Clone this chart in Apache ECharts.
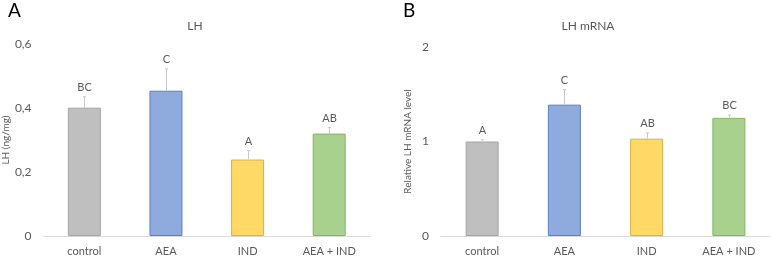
<!DOCTYPE html>
<html>
<head>
<meta charset="utf-8">
<script src="https://cdn.jsdelivr.net/npm/echarts@6/dist/echarts.min.js"></script>
<style>
  html, body { margin: 0; padding: 0; background: #fff; }
  #chart { width: 771px; height: 257px; }
</style>
</head>
<body>
<div id="chart"></div>
<script>
// 数据
const categories = ["control", "AEA", "IND", "AEA + IND"];
const lhMean = [0.401, 0.454, 0.239, 0.32];
const lhErr = [0.034, 0.068, 0.028, 0.019];
const lhLetters = ["BC", "C", "A", "AB"];
const mrnaMean = [1.0, 1.39, 1.03, 1.25];
const mrnaErr = [0.02, 0.16, 0.06, 0.03];
const mrnaLetters = ["A", "C", "AB", "BC"];

const fills = ["#bfbfbf", "#8faadc", "#ffd966", "#a9d18e"];
const borders = ["#a5a5a5", "#5b7fc7", "#d6b14a", "#84b462"];
const textColor = "#595959";
const font = "Lato, 'Open Sans', sans-serif";

function barData(vals) {
  return vals.map((v, i) => ({
    value: v,
    itemStyle: { color: fills[i], borderColor: borders[i], borderWidth: 1 },
  }));
}

function errData(mean, err, letters) {
  return mean.map((m, i) => [i, m, m + err[i], letters[i]]);
}

// 误差线 + 字母
function renderErr(params, api) {
  const base = api.coord([api.value(0), api.value(1)]);
  const top = api.coord([api.value(0), api.value(2)]);
  const x = Math.round(base[0]) + 0.5;
  return {
    type: "group",
    children: [
      {
        type: "line",
        shape: { x1: x, y1: base[1], x2: x, y2: top[1] },
        style: { stroke: "#c8c8c8", lineWidth: 1 },
      },
      {
        type: "line",
        shape: { x1: x - 1.5, y1: top[1], x2: x + 1.5, y2: top[1] },
        style: { stroke: "#c8c8c8", lineWidth: 1 },
      },
      {
        type: "text",
        x: x,
        y: top[1] - 4,
        style: {
          text: api.value(3),
          fill: textColor,
          font: "11px " + font,
          align: "center",
          verticalAlign: "bottom",
        },
      },
    ],
  };
}

function xAxisCfg(gridIndex) {
  return {
    type: "category",
    gridIndex,
    data: categories,
    axisTick: { show: false },
    axisLine: { lineStyle: { color: "#d9d9d9" } },
    axisLabel: { color: textColor, fontSize: 11, fontFamily: font, margin: 10 },
  };
}

const options = {
  animation: false,
  title: [
    { text: "A", left: 3, top: -4, textStyle: { fontSize: 19, fontWeight: "normal", color: "#000", fontFamily: font } },
    { text: "B", left: 398, top: -4, textStyle: { fontSize: 19, fontWeight: "normal", color: "#000", fontFamily: font } },
    { text: "LH", left: 190, top: 15, textAlign: "center", textStyle: { fontSize: 12, fontWeight: "normal", color: textColor, fontFamily: font } },
    { text: "LH mRNA", left: 583, top: 15, textAlign: "center", textStyle: { fontSize: 12, fontWeight: "normal", color: textColor, fontFamily: font } },
  ],
  grid: [
    { left: 42, right: 401, top: 44, bottom: 20 },
    { left: 441, right: 1, top: 47, bottom: 20 },
  ],
  xAxis: [xAxisCfg(0), xAxisCfg(1)],
  yAxis: [
    {
      type: "value",
      gridIndex: 0,
      min: 0,
      max: 0.6,
      interval: 0.2,
      name: "LH (ng/mg)",
      nameLocation: "middle",
      nameGap: 30,
      nameTextStyle: { color: textColor, fontSize: 10, fontFamily: font },
      splitLine: { show: false },
      axisLine: { show: false },
      axisLabel: {
        color: textColor,
        fontSize: 12,
        fontFamily: font,
        margin: 12,
        formatter: (v) => (v === 0 ? "0" : v.toFixed(1).replace(".", ",")),
      },
    },
    {
      type: "value",
      gridIndex: 1,
      min: 0,
      max: 2,
      interval: 1,
      name: "Relative LH mRNA level",
      nameLocation: "middle",
      nameGap: 28,
      nameTextStyle: { color: textColor, fontSize: 10, fontFamily: font },
      splitLine: { show: false },
      axisLine: { show: false },
      axisLabel: { color: textColor, fontSize: 12, fontFamily: font, margin: 12 },
    },
  ],
  series: [
    { type: "bar", xAxisIndex: 0, yAxisIndex: 0, barWidth: 33, data: barData(lhMean) },
    { type: "custom", xAxisIndex: 0, yAxisIndex: 0, renderItem: renderErr, data: errData(lhMean, lhErr, lhLetters), z: 3 },
    { type: "bar", xAxisIndex: 1, yAxisIndex: 1, barWidth: 33, data: barData(mrnaMean) },
    { type: "custom", xAxisIndex: 1, yAxisIndex: 1, renderItem: renderErr, data: errData(mrnaMean, mrnaErr, mrnaLetters), z: 3 },
  ],
};

const chart = echarts.init(document.getElementById("chart"));
chart.setOption(options);
window.addEventListener("resize", () => chart.resize());
</script>
</body>
</html>
